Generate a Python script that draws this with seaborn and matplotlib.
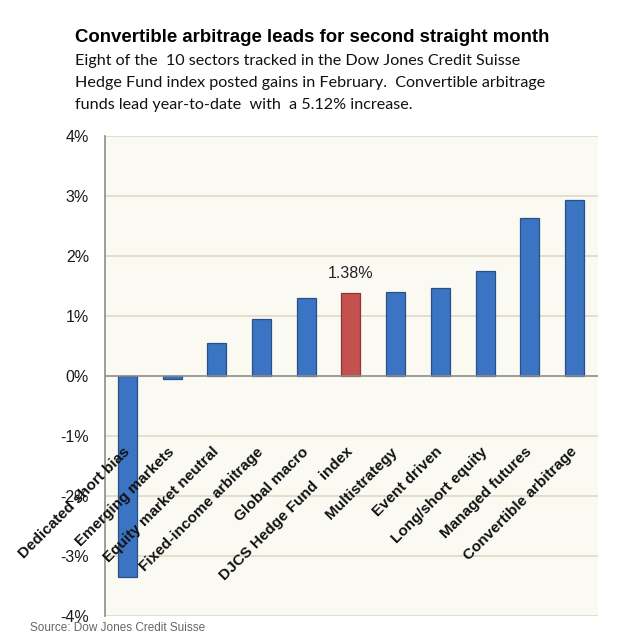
import matplotlib
matplotlib.use("Agg")
import matplotlib.pyplot as plt
import seaborn as sns
import pandas as pd

categories = ["Dedicated short bias", "Emerging markets", "Equity market neutral",
              "Fixed-income arbitrage", "Global macro", "DJCS Hedge Fund  index",
              "Multistrategy", "Event driven", "Long/short equity",
              "Managed futures", "Convertible arbitrage"]
values = [-3.35, -0.06, 0.55, 0.94, 1.29, 1.38, 1.39, 1.46, 1.75, 2.62, 2.93]
highlight = "DJCS Hedge Fund  index"
highlight_label = "1.38%"
yticks = [-4, -3, -2, -1, 0, 1, 2, 3, 4]

title = "Convertible arbitrage leads for second straight month"
subtitle = ["Eight of the  10 sectors tracked in the Dow Jones Credit Suisse",
            "Hedge Fund index posted gains in February.  Convertible arbitrage",
            "funds lead year-to-date  with  a 5.12% increase."]
source = "Source: Dow Jones Credit Suisse"

sns.set_theme(style="white")
plt.rcParams['font.family'] = ['Liberation Sans', 'DejaVu Sans']

df = pd.DataFrame({"cat": categories, "val": values})
blue = "#3B74C2"
red = "#C4514E"
palette = {c: (red if c == highlight else blue) for c in categories}

fig = plt.figure(figsize=(6.2, 6.38), dpi=100)
ax = fig.add_axes([105 / 620, 1 - 616 / 638, 493 / 620, 480.5 / 638])
ax.set_facecolor("#FAFAF3")

sns.barplot(data=df, x="cat", y="val", hue="cat", palette=palette, legend=False,
            width=0.425, ax=ax, edgecolor="#2A508A", linewidth=0.9, saturation=1, zorder=3)
for p, c in zip(ax.patches, categories):
    if c == highlight:
        p.set_edgecolor("#8E3431")

ax.set_ylim(-4, 4)
ax.set_xlim(-0.503, len(categories) - 1 + 0.526)
ax.set_yticks(yticks)
ax.set_yticklabels([f"{t}%" for t in yticks], fontsize=11.5, color="#1a1a1a")
ax.tick_params(axis="y", length=0, pad=11.5)
ax.set_xticks([])
ax.set_xlabel("")
ax.set_ylabel("")
for t in yticks:
    if t != 0:
        ax.axhline(t, color="#E0DCC8", lw=1.3, zorder=1)
ax.axhline(0, color="#8C8C8C", lw=1.2, zorder=4)
for s in ["top", "right", "bottom"]:
    ax.spines[s].set_visible(False)
ax.spines["left"].set_color("#8C8C8C")
ax.spines["left"].set_linewidth(1.2)

for i, c in enumerate(categories):
    ax.text(i - 0.115, -1.15, c, rotation=45, ha="right", va="top",
            rotation_mode="anchor", fontsize=11, fontweight="bold", color="#111111", zorder=6)

hi = categories.index(highlight)
ax.text(hi, values[hi] + 0.2, highlight_label, ha="center", va="bottom",
        fontsize=11.5, color="#222222", zorder=6)

fig.text(75 / 620, 1 - 37 / 638, title, fontsize=13.4, fontweight="bold",
         ha="left", va="center", color="#000000")
for k, line in enumerate(subtitle):
    fig.text(75 / 620, 1 - (61 + k * 22) / 638, line, fontsize=11.6, ha="left",
             va="center", color="#111111", family=["Lato", "DejaVu Sans"])
fig.text(30 / 620, 1 - 628 / 638, source, fontsize=8.5, ha="left", va="center",
         color="#666666")

fig.savefig("out.png", dpi=100)
